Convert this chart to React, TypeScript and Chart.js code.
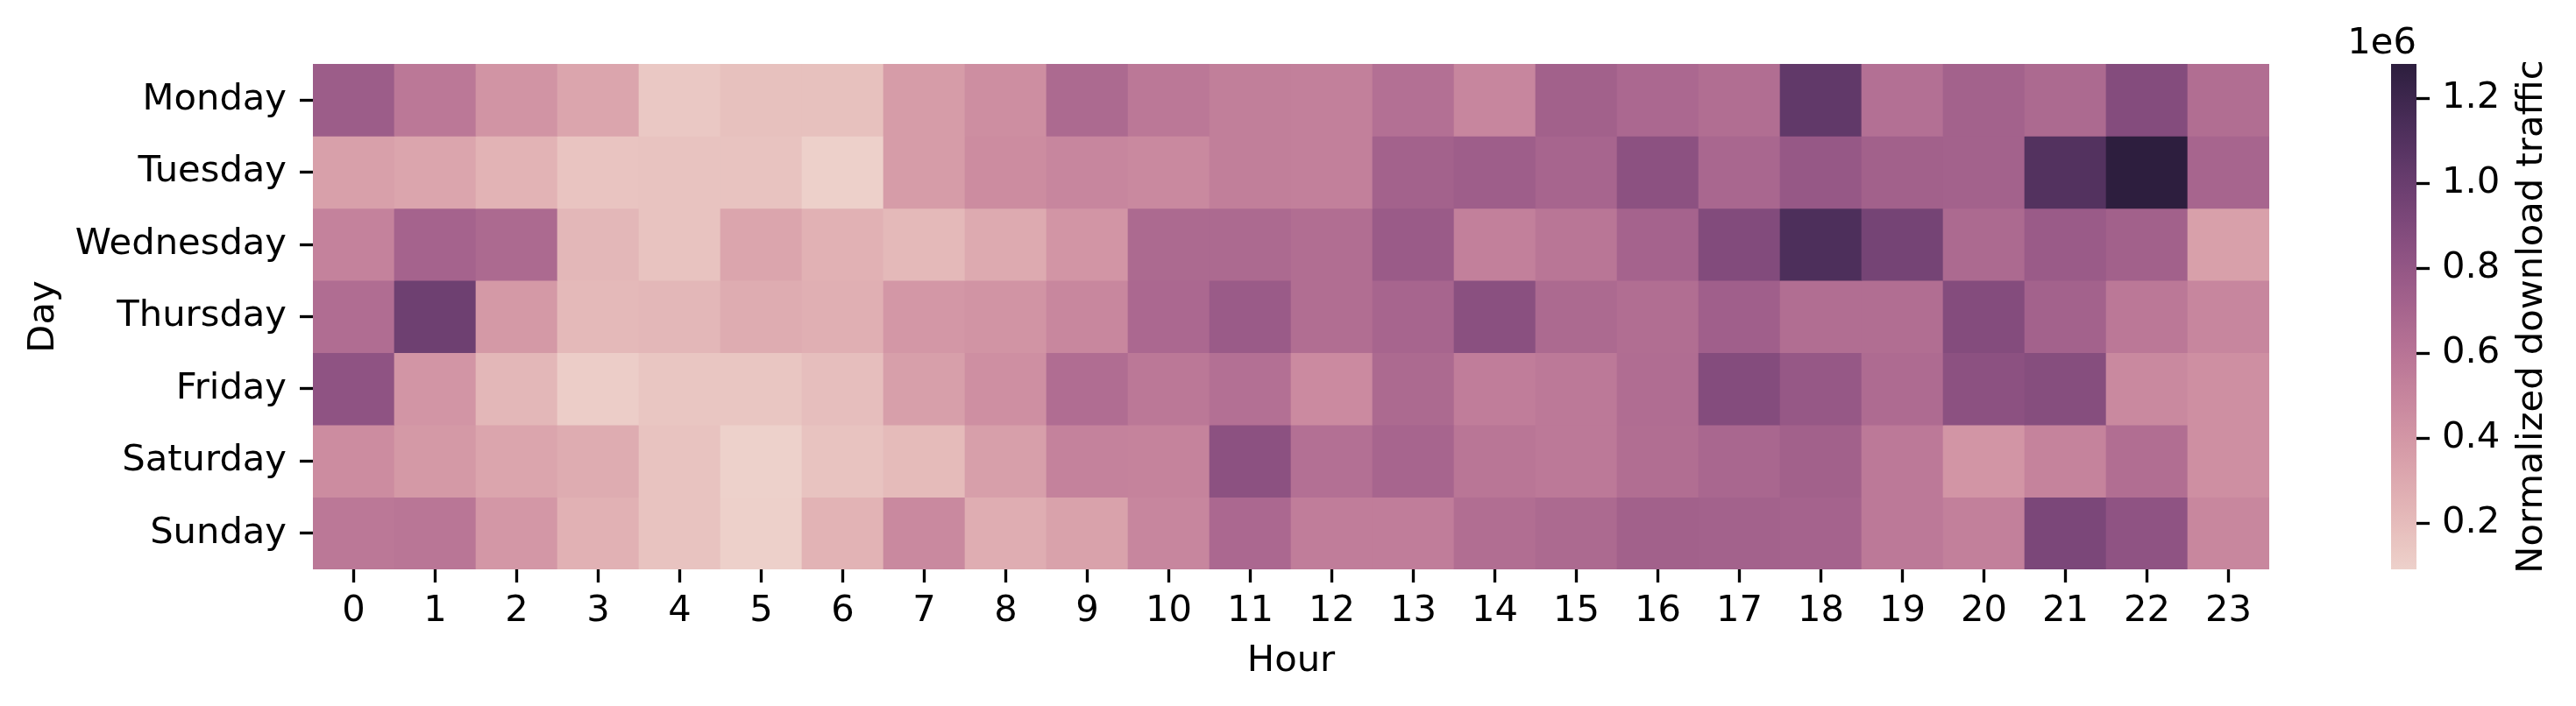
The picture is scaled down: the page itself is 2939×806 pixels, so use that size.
import React, { useEffect, useRef } from "react";
import { Chart, registerables } from "chart.js";

Chart.register(...registerables);

// ---------- data ----------
const days = ["Monday", "Tuesday", "Wednesday", "Thursday", "Friday", "Saturday", "Sunday"];
const hours = ["0", "1", "2", "3", "4", "5", "6", "7", "8", "9", "10", "11", "12", "13", "14", "15", "16", "17", "18", "19", "20", "21", "22", "23"];

const monday = [760000, 580000, 420000, 320000, 140000, 175000, 175000, 370000, 450000, 670000, 580000, 540000, 530000, 630000, 500000, 730000, 680000, 640000, 1040000, 630000, 720000, 670000, 880000, 640000];
const tuesday = [350000, 320000, 250000, 160000, 170000, 170000, 100000, 370000, 460000, 500000, 480000, 540000, 530000, 720000, 750000, 700000, 840000, 690000, 790000, 730000, 720000, 1100000, 1281000, 700000];
const wednesday = [520000, 710000, 670000, 230000, 170000, 320000, 260000, 220000, 300000, 410000, 670000, 670000, 640000, 770000, 530000, 590000, 710000, 890000, 1130000, 950000, 670000, 770000, 730000, 350000];
const thursday = [650000, 980000, 390000, 220000, 230000, 290000, 270000, 400000, 420000, 490000, 680000, 770000, 640000, 700000, 850000, 670000, 640000, 740000, 640000, 640000, 880000, 720000, 580000, 500000];
const friday = [830000, 410000, 230000, 110000, 150000, 150000, 190000, 360000, 440000, 650000, 580000, 630000, 470000, 670000, 550000, 570000, 650000, 880000, 790000, 660000, 840000, 870000, 480000, 440000];
const saturday = [460000, 390000, 320000, 290000, 170000, 91000, 170000, 210000, 360000, 520000, 510000, 840000, 630000, 700000, 590000, 570000, 640000, 690000, 730000, 570000, 410000, 510000, 640000, 440000];
const sunday = [580000, 590000, 400000, 260000, 170000, 100000, 250000, 480000, 280000, 340000, 500000, 680000, 550000, 550000, 640000, 670000, 730000, 720000, 710000, 570000, 530000, 920000, 830000, 490000];

const traffic = [monday, tuesday, wednesday, thursday, friday, saturday, sunday];

const colorbarTicks = [200000, 400000, 600000, 800000, 1000000, 1200000];
const colorbarOffsetText = "1e6";
const colorbarTitle = "Normalized download traffic";
const xTitle = "Hour";
const yTitle = "Day";

// ---------- colormap (seaborn cubehelix_palette, as_cmap) ----------
const allValues = traffic.flat();
const vmin = Math.min(...allValues);
const vmax = Math.max(...allValues);

function cubehelix(x: number): number[] {
  const start = 0, rot = 0.4, hue = 0.8, gamma = 1;
  const xg = Math.pow(x, gamma);
  const a = (hue * xg * (1 - xg)) / 2;
  const phi = 2 * Math.PI * (start / 3 + rot * x);
  const c = Math.cos(phi), s = Math.sin(phi);
  const r = xg + a * (-0.14861 * c + 1.78277 * s);
  const g = xg + a * (-0.29227 * c - 0.90649 * s);
  const b = xg + a * (1.97294 * c);
  return [r, g, b].map((v) => Math.round(Math.min(1, Math.max(0, v)) * 255));
}

function cmapColor(t: number): string {
  const idx = Math.min(255, Math.max(0, Math.floor(t * 256)));
  const x = 0.85 + ((0.15 - 0.85) * idx) / 255;
  const [r, g, b] = cubehelix(x);
  return `rgb(${r},${g},${b})`;
}

function valueColor(v: number): string {
  return cmapColor((v - vmin) / (vmax - vmin));
}

const FONT = "DejaVu Sans";
const FS = 41.67;
Chart.defaults.font.family = FONT;

const tickGrid = {
  display: true,
  offset: false,
  drawOnChartArea: false,
  drawTicks: true,
  tickLength: 15,
  tickWidth: 3.33,
  tickColor: "#000",
};

export default function App() {
  const mainRef = useRef<HTMLCanvasElement>(null);
  const cbRef = useRef<HTMLCanvasElement>(null);

  useEffect(() => {
    const datasets = days.map((day, i) => ({
      label: day,
      data: traffic[i].map(() => [i, i + 1]),
      backgroundColor: traffic[i].map((v) => valueColor(v)),
      borderWidth: 0,
      grouped: false,
      barPercentage: 1,
      categoryPercentage: 1,
    }));

    const main = new Chart(mainRef.current as HTMLCanvasElement, {
      type: "bar",
      data: { labels: hours, datasets: datasets as any },
      options: {
        responsive: false,
        animation: false,
        layout: { padding: { left: 0, top: 73, right: 61, bottom: 0 } },
        plugins: { legend: { display: false }, tooltip: { enabled: false } },
        scales: {
          x: {
            type: "category",
            offset: true,
            grid: tickGrid as any,
            border: { display: false },
            ticks: {
              color: "#000",
              font: { family: FONT, size: FS },
              padding: 8.6,
              maxRotation: 0,
              minRotation: 0,
              autoSkip: false,
            },
            title: {
              display: true,
              text: xTitle,
              color: "#000",
              font: { family: FONT, size: FS },
              padding: { top: 0, bottom: 25.4 },
            },
            afterFit: (s: any) => {
              s.height = 156;
            },
          },
          y: {
            type: "linear",
            min: 0,
            max: days.length,
            reverse: true,
            grid: tickGrid as any,
            border: { display: false },
            afterBuildTicks: (s: any) => {
              s.ticks = days.map((_, i) => ({ value: i + 0.5 }));
            },
            ticks: {
              color: "#000",
              font: { family: FONT, size: FS },
              padding: 15,
              autoSkip: false,
              callback: (_v: any, i: number) => days[i],
            },
            title: {
              display: true,
              text: yTitle,
              color: "#000",
              font: { family: FONT, size: FS },
              padding: { top: 25.6, bottom: 0 },
            },
            afterFit: (s: any) => {
              s.width = 357;
            },
          },
        },
      },
    });

    const cbLabels = {
      id: "cbLabels",
      afterDraw(chart: any) {
        const { ctx, chartArea, scales } = chart;
        ctx.save();
        ctx.fillStyle = "#000";
        ctx.font = `${FS}px "${FONT}"`;
        ctx.textAlign = "right";
        ctx.textBaseline = "alphabetic";
        ctx.fillText(colorbarOffsetText, chartArea.right, chartArea.top - 12);
        ctx.translate(scales.y.right - 39, (chartArea.top + chartArea.bottom) / 2);
        ctx.rotate(-Math.PI / 2);
        ctx.textAlign = "center";
        ctx.fillText(colorbarTitle, 0, 0);
        ctx.restore();
      },
    };

    const cb = new Chart(cbRef.current as HTMLCanvasElement, {
      type: "bar",
      data: {
        labels: [""],
        datasets: [
          {
            data: [[vmin, vmax]] as any,
            borderWidth: 0,
            barPercentage: 1,
            categoryPercentage: 1,
            backgroundColor: (c: any) => {
              const chart = c.chart;
              const area = chart.chartArea;
              if (!area) return cmapColor(0.5);
              const ys = chart.scales.y;
              const g = chart.ctx.createLinearGradient(0, ys.getPixelForValue(vmin), 0, ys.getPixelForValue(vmax));
              const n = 64;
              for (let k = 0; k <= n; k++) g.addColorStop(k / n, cmapColor(k / n));
              return g;
            },
          },
        ],
      },
      options: {
        responsive: false,
        animation: false,
        layout: { padding: { left: 128, top: 73, right: 0, bottom: 156 } },
        plugins: { legend: { display: false }, tooltip: { enabled: false } },
        scales: {
          x: { display: false },
          y: {
            type: "linear",
            position: "right",
            min: vmin,
            max: vmax,
            grid: tickGrid as any,
            border: { display: false },
            afterBuildTicks: (s: any) => {
              s.ticks = colorbarTicks.map((v) => ({ value: v }));
            },
            ticks: {
              color: "#000",
              font: { family: FONT, size: FS },
              padding: 14,
              autoSkip: false,
              callback: (v: any) => (Number(v) / 1e6).toFixed(1),
            },
            afterFit: (s: any) => {
              s.width = 182;
            },
          },
        },
      },
      plugins: [cbLabels],
    });

    return () => {
      main.destroy();
      cb.destroy();
    };
  }, []);

  return (
    <div
      style={{
        position: "absolute",
        left: 0,
        top: 0,
        width: 2939,
        height: 806,
        background: "#fff",
        overflow: "hidden",
      }}
    >
      <canvas ref={mainRef} width={2650} height={806} style={{ position: "absolute", left: 0, top: 0 }} />
      <canvas ref={cbRef} width={339} height={806} style={{ position: "absolute", left: 2600, top: 0 }} />
    </div>
  );
}
